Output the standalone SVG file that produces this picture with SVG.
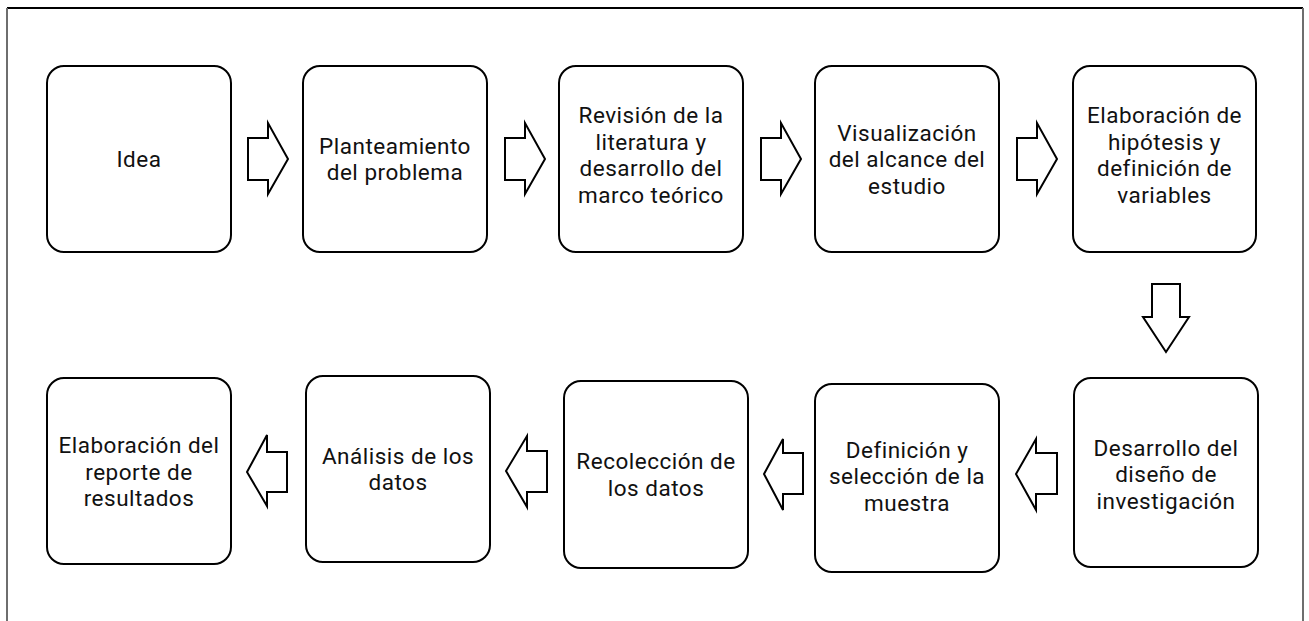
<svg xmlns="http://www.w3.org/2000/svg" width="1309" height="621" viewBox="0 0 1309 621">
<style>
.box{fill:#fff;stroke:#000;stroke-width:2}
.arr{fill:#fff;stroke:#000;stroke-width:2;stroke-linejoin:miter}
text{font-family:Roboto,"Liberation Sans",sans-serif;font-size:22.5px;letter-spacing:0.5px;fill:#111;text-anchor:middle}
</style>
<rect width="1309" height="621" fill="#fff"/>
<g id="frame">
<line x1="7" y1="8" x2="1303" y2="8" stroke="#000" stroke-width="2"/>
<line x1="7" y1="8" x2="7" y2="621" stroke="#6e6e6e" stroke-width="2"/>
<line x1="1303" y1="8" x2="1303" y2="621" stroke="#6e6e6e" stroke-width="2"/>
</g>
<g id="n1"><rect class="box" x="47" y="66" width="184" height="186" rx="17"/><text x="139" y="167">Idea</text></g>
<g id="n2"><rect class="box" x="303" y="66" width="184" height="186" rx="17"/><text x="395" y="153.5">Planteamiento</text><text x="395" y="180">del problema</text></g>
<g id="n3"><rect class="box" x="559" y="66" width="184" height="186" rx="17"/><text x="651" y="123">Revisión de la</text><text x="651" y="149.5">literatura y</text><text x="651" y="176">desarrollo del</text><text x="651" y="202.5">marco teórico</text></g>
<g id="n4"><rect class="box" x="815" y="66" width="184" height="186" rx="17"/><text x="907" y="140.5">Visualización</text><text x="907" y="167">del alcance del</text><text x="907" y="193.5">estudio</text></g>
<g id="n5"><rect class="box" x="1073" y="66" width="183" height="186" rx="17"/><text x="1164.5" y="123">Elaboración de</text><text x="1164.5" y="149.5">hipótesis y</text><text x="1164.5" y="176">definición de</text><text x="1164.5" y="202.5">variables</text></g>
<g id="n6"><rect class="box" x="1074" y="378" width="184" height="189" rx="17"/><text x="1166" y="455.5">Desarrollo del</text><text x="1166" y="482">diseño de</text><text x="1166" y="508.5">investigación</text></g>
<g id="n7"><rect class="box" x="815" y="384" width="184" height="188" rx="17"/><text x="907" y="457.5">Definición y</text><text x="907" y="484">selección de la</text><text x="907" y="510.5">muestra</text></g>
<g id="n8"><rect class="box" x="564" y="381" width="184" height="187" rx="17"/><text x="656" y="469">Recolección de</text><text x="656" y="495.5">los datos</text></g>
<g id="n9"><rect class="box" x="306" y="376" width="184" height="186" rx="17"/><text x="398" y="463.5">Análisis de los</text><text x="398" y="490">datos</text></g>
<g id="n10"><rect class="box" x="47" y="378" width="184" height="186" rx="17"/><text x="139" y="453">Elaboración del</text><text x="139" y="479.5">reporte de</text><text x="139" y="506">resultados</text></g>
<g id="connectors">
<path class="arr" d="M248 138 H268 V123 L288 159 L268 194 V180 H248 Z"/>
<path class="arr" d="M505 138 H525 V123 L545 159 L525 194 V180 H505 Z"/>
<path class="arr" d="M761 138 H781 V123 L801 159 L781 194 V180 H761 Z"/>
<path class="arr" d="M1017 138 H1037 V123 L1057 159 L1037 194 V180 H1017 Z"/>
<path class="arr" d="M1152 284 H1180 V317 H1189 L1166 352 L1143 317 H1152 Z"/>
<path class="arr" d="M1057 453 H1036 V439 L1016 474 L1036 510 V494 H1057 Z"/>
<path class="arr" d="M803 453 H783 V439 L764 474 L783 510 V494 H803 Z"/>
<path class="arr" d="M547 451 H527 V436 L506 471 L527 507 V492 H547 Z"/>
<path class="arr" d="M287 452 H267 V435 L247 472 L267 506 V492 H287 Z"/>
</g>
</svg>
